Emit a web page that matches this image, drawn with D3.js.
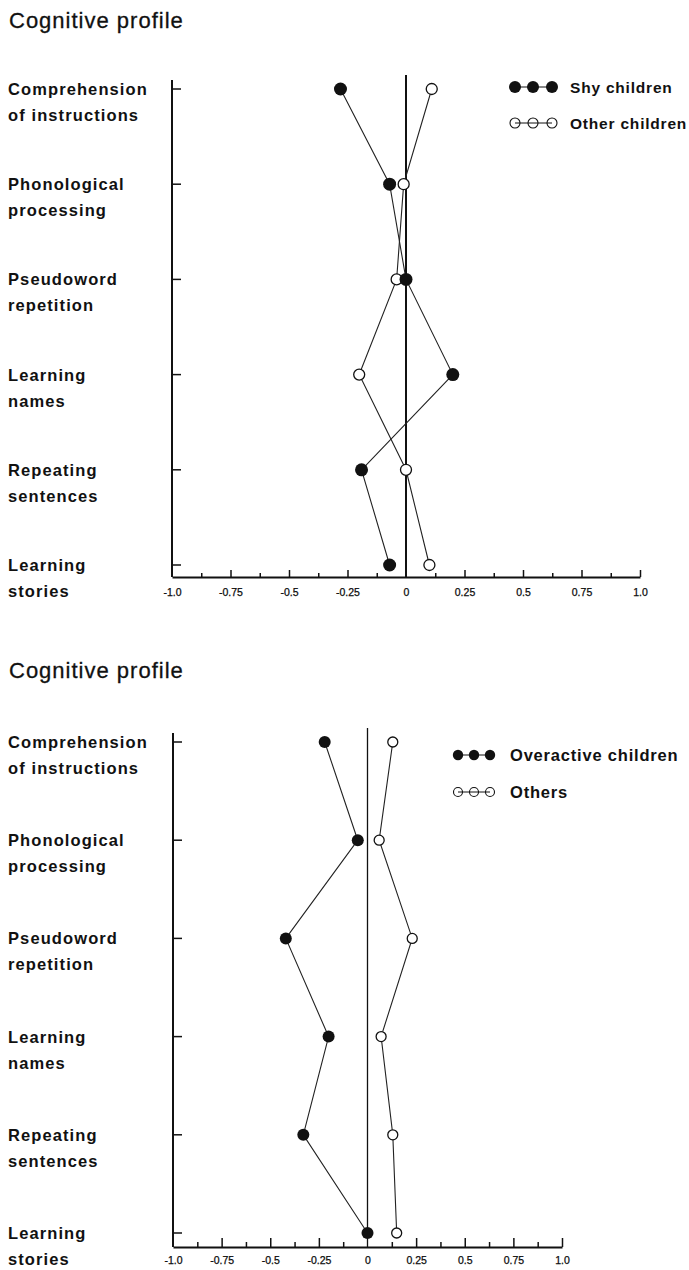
<!DOCTYPE html>
<html>
<head>
<meta charset="utf-8">
<script src="https://cdn.jsdelivr.net/npm/d3@7/dist/d3.min.js"></script>
<style>
  html, body { margin: 0; padding: 0; background: #fff; }
  svg { display: block; }
  text { font-family: "Liberation Sans", Arial, Helvetica, sans-serif; fill: #111; }
</style>
</head>
<body>
<svg id="chart" width="689" height="1270"></svg>
<script>
// Test categories (two-line labels)
const categories = [
  ["Comprehension", "of instructions"],
  ["Phonological", "processing"],
  ["Pseudoword", "repetition"],
  ["Learning", "names"],
  ["Repeating", "sentences"],
  ["Learning", "stories"]
];

// x axis ticks and labels
const xTickValues = [-1, -0.75, -0.5, -0.25, 0, 0.25, 0.5, 0.75, 1];
const xTickLabels = ["-1.0", "-0.75", "-0.5", "-0.25", "0", "0.25", "0.5", "0.75", "1.0"];
const xMinorTicks = [-0.875, -0.625, -0.375, -0.125, 0.125, 0.375, 0.625, 0.875];

// Panel 1: shy children vs other children (z-scores)
const shyValues = [-0.28, -0.07, 0.0, 0.20, -0.19, -0.07];
const otherChildrenValues = [0.11, -0.01, -0.04, -0.20, 0.0, 0.10];

// Panel 2: overactive children vs others (z-scores)
const overactiveValues = [-0.22, -0.05, -0.42, -0.20, -0.33, 0.0];
const othersValues = [0.13, 0.06, 0.23, 0.07, 0.13, 0.15];

const titleText = "Cognitive profile";

const svg = d3.select("#chart");

function drawPanel(cfg) {
  const g = svg.append("g");

  // title
  g.append("text")
    .attr("x", 9).attr("y", cfg.titleY)
    .attr("font-size", 22).attr("letter-spacing", 1)
    .attr("stroke", "#111").attr("stroke-width", 0.3)
    .text(titleText);

  const x = d3.scaleLinear().domain([-1, 1]).range(cfg.xRange);
  const y = d3.scaleLinear().domain([0, categories.length - 1]).range(cfg.yRange);
  const idx = d3.range(categories.length);

  // category labels
  const lab = g.append("g").attr("font-weight", "bold").attr("font-size", 16.5)
    .attr("letter-spacing", 1.1);
  idx.forEach(i => {
    lab.append("text").attr("x", 8).attr("y", y(i) + 6).text(categories[i][0]);
    lab.append("text").attr("x", 8).attr("y", y(i) + 32).text(categories[i][1]);
  });

  // left axis line with inward ticks
  g.append("line")
    .attr("x1", cfg.xRange[0]).attr("x2", cfg.xRange[0])
    .attr("y1", cfg.axisTop).attr("y2", cfg.axisBottom)
    .attr("stroke", "#111").attr("stroke-width", 2);
  g.selectAll(".ytick").data(idx).join("line")
    .attr("x1", cfg.xRange[0]).attr("x2", cfg.xRange[0] + 9)
    .attr("y1", d => y(d)).attr("y2", d => y(d))
    .attr("stroke", "#111").attr("stroke-width", 1.5);

  // bottom axis: major ticks with labels
  const axisMajor = d3.axisBottom(x)
    .tickValues(xTickValues)
    .tickFormat((d, i) => xTickLabels[i])
    .tickSizeInner(-cfg.majorTick).tickSizeOuter(0).tickPadding(cfg.labelPad);
  const ax = g.append("g")
    .attr("transform", `translate(0,${cfg.axisBottom})`)
    .call(axisMajor);
  ax.select(".domain").attr("stroke", "#111").attr("stroke-width", 2);
  ax.selectAll(".tick line").attr("stroke", "#111").attr("stroke-width", 1.5);
  ax.selectAll(".tick text")
    .attr("font-family", "\"Liberation Sans\", Arial, sans-serif")
    .attr("font-size", 10.5).attr("fill", "#000")
    .attr("stroke", "#000").attr("stroke-width", 0.25);
  ax.selectAll(".tick").filter(d => d === 0 || d === -1).select("line").remove();

  // minor ticks
  const axisMinor = d3.axisBottom(x)
    .tickValues(xMinorTicks).tickFormat("")
    .tickSizeInner(-cfg.minorTick).tickSizeOuter(0);
  const axm = g.append("g")
    .attr("transform", `translate(0,${cfg.axisBottom})`)
    .call(axisMinor);
  axm.select(".domain").remove();
  axm.selectAll(".tick line").attr("stroke", "#111").attr("stroke-width", 1.5);

  // zero reference line
  g.append("line")
    .attr("x1", x(0)).attr("x2", x(0))
    .attr("y1", cfg.zeroTop).attr("y2", cfg.axisBottom)
    .attr("stroke", "#111").attr("stroke-width", cfg.zeroWidth);

  const line = d3.line().x(d => x(d.v)).y(d => y(d.i));

  // series: connecting lines first, then open and filled markers
  [cfg.open, cfg.filled].forEach(s => {
    const pts = s.map((v, i) => ({ v, i }));
    g.append("path").datum(pts)
      .attr("d", line).attr("fill", "none")
      .attr("stroke", "#222").attr("stroke-width", 1.1);
  });
  const openPts = cfg.open.map((v, i) => ({ v, i }));
  g.selectAll(".open").data(openPts).join("circle")
    .attr("cx", d => x(d.v)).attr("cy", d => y(d.i)).attr("r", cfg.rOpen)
    .attr("fill", "#fff").attr("stroke", "#111").attr("stroke-width", 1.3);
  const fillPts = cfg.filled.map((v, i) => ({ v, i }));
  g.selectAll(".filled").data(fillPts).join("circle")
    .attr("cx", d => x(d.v)).attr("cy", d => y(d.i)).attr("r", cfg.rFilled)
    .attr("fill", "#111");

  // legend
  const leg = g.append("g");
  cfg.legend.forEach((item, k) => {
    const ly = cfg.legendY[k];
    const xs = cfg.legendX;
    leg.append("line")
      .attr("x1", xs[0]).attr("x2", xs[xs.length - 1])
      .attr("y1", ly).attr("y2", ly)
      .attr("stroke", "#111").attr("stroke-width", 1);
    xs.forEach(px => {
      const c = leg.append("circle").attr("cx", px).attr("cy", ly);
      if (item.filled) c.attr("r", cfg.rLegFilled).attr("fill", "#111");
      else c.attr("r", cfg.rLegOpen).attr("fill", "none").attr("stroke", "#111").attr("stroke-width", 1.1);
    });
    leg.append("text")
      .attr("x", cfg.legendTextX).attr("y", ly + 5.5)
      .attr("font-size", cfg.legendFont).attr("font-weight", "bold")
      .attr("letter-spacing", cfg.legendSpacing)
      .text(item.label);
  });
}

drawPanel({
  titleY: 28,
  xRange: [172, 640],
  yRange: [89, 565],
  axisTop: 80,
  axisBottom: 577,
  zeroTop: 75,
  zeroWidth: 2,
  majorTick: 7,
  minorTick: 4,
  labelPad: 12,
  filled: shyValues,
  open: otherChildrenValues,
  rFilled: 6.5,
  rOpen: 5.5,
  legend: [{ label: "Shy children", filled: true }, { label: "Other children", filled: false }],
  legendX: [515, 533, 552],
  legendY: [87, 123],
  legendTextX: 570,
  legendFont: 15.5,
  legendSpacing: 0.8,
  rLegFilled: 6,
  rLegOpen: 5
});

drawPanel({
  titleY: 678,
  xRange: [173, 562],
  yRange: [742, 1233],
  axisTop: 733,
  axisBottom: 1247,
  zeroTop: 728,
  zeroWidth: 1.3,
  majorTick: 9,
  minorTick: 5,
  labelPad: 10,
  filled: overactiveValues,
  open: othersValues,
  rFilled: 6,
  rOpen: 5,
  legend: [{ label: "Overactive children", filled: true }, { label: "Others", filled: false }],
  legendX: [458, 474, 490],
  legendY: [755, 792],
  legendTextX: 510,
  legendFont: 16.5,
  legendSpacing: 0.8,
  rLegFilled: 5.2,
  rLegOpen: 4.5
});
</script>
</body>
</html>
